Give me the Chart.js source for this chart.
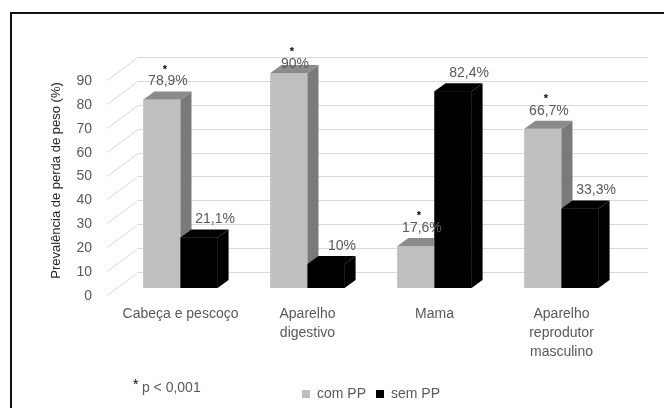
<!DOCTYPE html>
<html>
<head>
<meta charset="utf-8">
<script src="https://cdn.jsdelivr.net/npm/chart.js@4/dist/chart.umd.min.js"></script>
<style>
  html, body { margin: 0; padding: 0; background: #fff; }
  #wrap { position: relative; width: 664px; height: 408px; }
</style>
</head>
<body>
<div id="wrap"><canvas id="chart" width="664" height="408"></canvas></div>
<script>
// dados
const categories = [['Cabeça e pescoço'], ['Aparelho', 'digestivo'], ['Mama'], ['Aparelho', 'reprodutor', 'masculino']];
const seriesNames = ['com PP', 'sem PP'];
const comPP = [78.9, 90, 17.6, 66.7];
const semPP = [21.1, 10, 82.4, 33.3];
const significant = [true, true, true, true]; // * acima de "com PP"
const yTicks = [0, 10, 20, 30, 40, 50, 60, 70, 80, 90];
const footnote = '* p < 0,001';

const textColor = '#595959';
const font = 'Liberation Sans, Arial, sans-serif';
const front = ['#bfbfbf', '#000000'];
const topFace = ['#8b8b8b', '#000000'];
const sideFace = ['#7a7a7a', '#000000'];
const dx = 11, dy = 8;

function poly(ctx, pts, color) {
  ctx.fillStyle = color;
  ctx.beginPath();
  ctx.moveTo(pts[0][0], pts[0][1]);
  for (let k = 1; k < pts.length; k++) ctx.lineTo(pts[k][0], pts[k][1]);
  ctx.closePath();
  ctx.fill();
}

const bars3d = {
  id: 'bars3d',
  beforeDraw(chart) {
    const ctx = chart.ctx;
    ctx.save();
    ctx.strokeStyle = '#111';
    ctx.lineWidth = 2;
    ctx.strokeRect(11, 13, 700, 450);
    ctx.restore();
  },
  beforeDatasetsDraw(chart) {
    // paredes do fundo e lateral
    const { ctx, chartArea: a, scales: { y } } = chart;
    ctx.save();
    ctx.strokeStyle = '#d9d9d9';
    ctx.lineWidth = 1;
    yTicks.forEach(v => {
      const py = Math.round(y.getPixelForValue(v)) + 0.5;
      ctx.beginPath();
      ctx.moveTo(a.left - 10, py + 7);
      ctx.lineTo(a.left + 21, py - 16);
      ctx.lineTo(a.right + 23, py - 16);
      ctx.stroke();
    });
    ctx.restore();
  },
  afterDatasetsDraw(chart) {
    const ctx = chart.ctx;
    ctx.save();
    // faces 3D: cinza primeiro, depois preto por cima
    chart.data.datasets.forEach((ds, i) => {
      chart.getDatasetMeta(i).data.forEach(bar => {
        const { x, y, base, width } = bar.getProps(['x', 'y', 'base', 'width'], true);
        const l = x - width / 2, r = x + width / 2;
        poly(ctx, [[l, y], [r, y], [r, base], [l, base]], front[i]);
        poly(ctx, [[r, y], [r + dx, y - dy], [r + dx, base - dy], [r, base]], sideFace[i]);
        poly(ctx, [[l, y], [r, y], [r + dx, y - dy], [l + dx, y - dy]], topFace[i]);
      });
    });

    ctx.textAlign = 'center';
    ctx.textBaseline = 'middle';
    chart.data.datasets.forEach((ds, i) => {
      const meta = chart.getDatasetMeta(i);
      meta.data.forEach((bar, j) => {
        const v = ds.data[j];
        const lx = bar.x + (i === 0 ? 6 : 16);
        const ly = Math.max(bar.y - 18, 64);
        ctx.font = '14px ' + font;
        ctx.fillStyle = textColor;
        ctx.fillText(String(v).replace('.', ',') + '%', lx, ly);
        if (i === 0 && significant[j]) {
          ctx.fillStyle = '#000';
          ctx.font = 'bold 11px ' + font;
          ctx.fillText('*', lx - 3, ly - 12);
        }
      });
    });
    ctx.textAlign = 'left';
    ctx.font = '14px ' + font;
    ctx.fillStyle = '#000';
    ctx.fillText(footnote.slice(0, 1), 133, 385);
    ctx.fillStyle = textColor;
    ctx.fillText(footnote.slice(1), 138, 388);
    ctx.restore();
  }
};

new Chart(document.getElementById('chart'), {
  type: 'bar',
  data: {
    labels: categories,
    datasets: [
      { label: seriesNames[0], data: comPP, backgroundColor: front[0] },
      { label: seriesNames[1], data: semPP, backgroundColor: front[1] }
    ]
  },
  options: {
    responsive: false,
    animation: false,
    events: [],
    layout: { padding: { left: 49, right: 39, top: 73, bottom: -3 } },
    datasets: { bar: { categoryPercentage: 0.584, barPercentage: 1, borderWidth: 0, clip: false } },
    scales: {
      x: {
        grid: { display: false, drawTicks: false },
        border: { display: false },
        ticks: { color: textColor, padding: 17, font: { family: font, size: 14, lineHeight: 1.36 }, maxRotation: 0, autoSkip: false },
        afterFit(s) { s.height = 89; }
      },
      y: {
        min: 0,
        max: 90,
        grid: { display: false, drawTicks: false },
        border: { display: false },
        afterBuildTicks(s) { s.ticks = yTicks.map(v => ({ value: v })); },
        ticks: { color: textColor, padding: 25, labelOffset: 8, font: { family: font, size: 14 } },
        title: { display: true, text: 'Prevalência de perda de peso (%)', color: '#262626', padding: 0, font: { family: font, size: 13 } },
        afterFit(s) { s.width = 68; }
      }
    },
    plugins: {
      legend: {
        position: 'bottom',
        fullSize: false,
        labels: {
          color: textColor,
          boxWidth: 8,
          boxHeight: 8,
          padding: 10,
          font: { family: font, size: 14 }
        }
      },
      tooltip: { enabled: false }
    }
  },
  plugins: [bars3d]
});
</script>
</body>
</html>
